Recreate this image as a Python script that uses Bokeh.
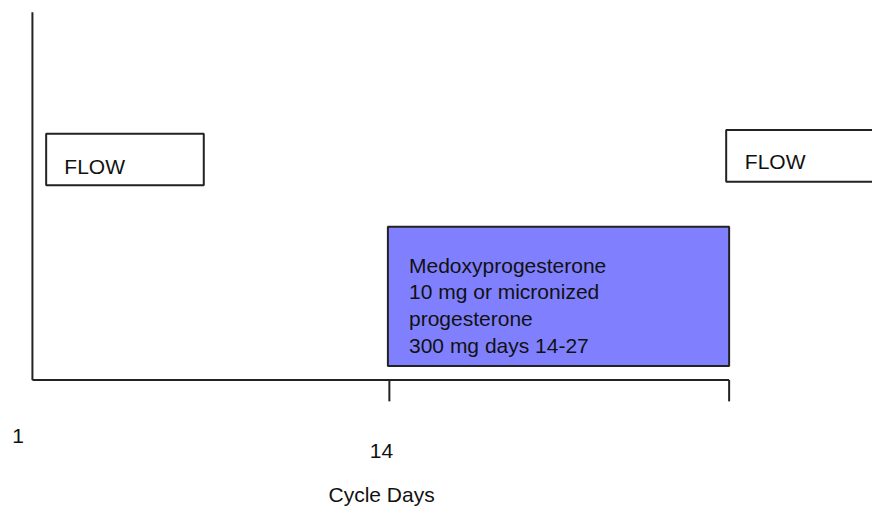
from bokeh.plotting import figure
from bokeh.models import Range1d, ColumnDataSource
from bokeh.core.properties import value
from bokeh.embed import file_html
from bokeh.resources import INLINE

# ---- schematic data (diagram units on an 888 x 524 canvas) ----
# axis lines
axis_x0 = 32.5
axis_top = 12
axis_y = 391.5
axis_x1 = 742
tick_x = [396, 742]
tick_len = 22

# boxes
box_labels = ["FLOW", "FLOW", "Medoxy"]
box_left = [46.5, 739, 394.5]
box_right = [207, 900, 742]
box_top = [137.5, 133.5, 233.5]
box_bottom = [190.5, 187, 377]
box_fill = ["#ffffff", "#ffffff", "#8080ff"]

# texts inside boxes
flow_text = ["FLOW", "FLOW"]
flow_x = [65, 758]
flow_y = [171, 166.5]

med_lines = ["Medoxyprogesterone", "10 mg or micronized", "progesterone", "300 mg days 14-27"]
med_x = [416, 416, 416, 416]
med_y = [273, 300.5, 328, 356]

# axis labels
tick_labels = ["1", "14"]
tick_label_x = [12, 376]
tick_label_y = [449, 465]
xlabel = ["Cycle Days"]
xlabel_x = [334]
xlabel_y = [510]

FONT = value("Liberation Sans")
FS = "21px"

p = figure(width=872, height=508, output_backend="svg", toolbar_location=None,
           x_range=Range1d(0, 888), y_range=Range1d(524, 0),
           min_border=0, outline_line_color=None)
p.axis.visible = False
p.grid.visible = False
p.background_fill_color = "white"
p.border_fill_color = "white"

# axes drawn as lines
p.line([axis_x0, axis_x0], [axis_top, axis_y], line_color="#222222", line_width=2)
p.line([axis_x0, axis_x1], [axis_y, axis_y], line_color="#222222", line_width=2)
p.segment(x0=tick_x, y0=[axis_y] * len(tick_x), x1=tick_x,
          y1=[axis_y + tick_len] * len(tick_x), line_color="#222222", line_width=2)

# boxes
src = ColumnDataSource(dict(left=box_left, right=box_right, top=box_top,
                            bottom=box_bottom, fill=box_fill))
p.quad(left="left", right="right", top="top", bottom="bottom", fill_color="fill",
       line_color="#222222", line_width=2, source=src)

# texts
p.text(x=flow_x, y=flow_y, text=flow_text, text_font=FONT, text_font_size=FS,
       text_color="#111111", text_align="left", text_baseline="alphabetic")
p.text(x=med_x, y=med_y, text=med_lines, text_font=FONT, text_font_size=FS,
       text_color="#111111", text_align="left", text_baseline="alphabetic")
p.text(x=tick_label_x, y=tick_label_y, text=tick_labels, text_font=FONT, text_font_size=FS,
       text_color="#111111", text_align="left", text_baseline="alphabetic")
p.text(x=xlabel_x, y=xlabel_y, text=xlabel, text_font=FONT, text_font_size=FS,
       text_color="#111111", text_align="left", text_baseline="alphabetic")

open("out.html", "w").write(file_html(p, INLINE))
